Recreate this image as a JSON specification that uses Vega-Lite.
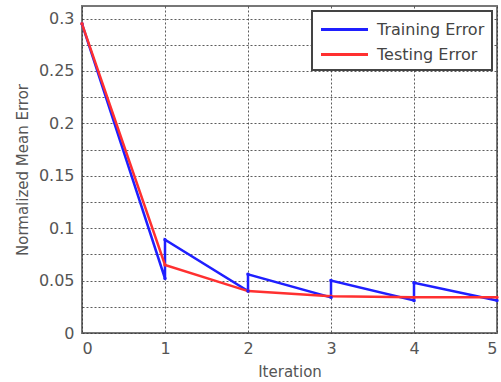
{
  "$schema": "https://vega.github.io/schema/vega-lite/v6.json",
  "width": 415,
  "height": 327,
  "autosize": {"type": "none"},
  "padding": {"left": 82, "top": 6, "right": 4, "bottom": 49},
  "background": "white",
  "config": {
    "font": "DejaVu Sans",
    "view": {"stroke": "#777", "strokeWidth": 2},
    "legend": {"strokeWidth": 2},
    "axis": {
      "domain": false,
      "grid": true,
      "gridColor": "#333",
      "gridDash": [2, 2],
      "gridWidth": 1,
      "gridOpacity": 0.8,
      "ticks": false,
      "labelOverlap": false,
      "labelFont": "DejaVu Sans",
      "labelFontSize": 16,
      "labelColor": "#555",
      "titleFont": "DejaVu Sans",
      "titleFontSize": 15,
      "titleFontWeight": "normal",
      "titleColor": "#555"
    }
  },
  "data": {
    "values": [
      {"series": "Training Error", "seq": 1, "iteration": 0, "error": 0.295},
      {"series": "Training Error", "seq": 2, "iteration": 1, "error": 0.052},
      {"series": "Training Error", "seq": 3, "iteration": 1, "error": 0.089},
      {"series": "Training Error", "seq": 4, "iteration": 2, "error": 0.04},
      {"series": "Training Error", "seq": 5, "iteration": 2, "error": 0.056},
      {"series": "Training Error", "seq": 6, "iteration": 3, "error": 0.034},
      {"series": "Training Error", "seq": 7, "iteration": 3, "error": 0.05},
      {"series": "Training Error", "seq": 8, "iteration": 4, "error": 0.031},
      {"series": "Training Error", "seq": 9, "iteration": 4, "error": 0.048},
      {"series": "Training Error", "seq": 10, "iteration": 5, "error": 0.031},
      {"series": "Testing Error", "seq": 1, "iteration": 0, "error": 0.295},
      {"series": "Testing Error", "seq": 2, "iteration": 1, "error": 0.065},
      {"series": "Testing Error", "seq": 3, "iteration": 2, "error": 0.04},
      {"series": "Testing Error", "seq": 4, "iteration": 3, "error": 0.035},
      {"series": "Testing Error", "seq": 5, "iteration": 4, "error": 0.034},
      {"series": "Testing Error", "seq": 6, "iteration": 5, "error": 0.034}
    ]
  },
  "mark": {"type": "line", "strokeWidth": 2.5, "point": {"size": 12, "filled": true}},
  "encoding": {
    "x": {
      "field": "iteration",
      "type": "quantitative",
      "scale": {"domain": [0, 5], "nice": false},
      "axis": {"values": [0, 1, 2, 3, 4, 5], "title": "Iteration", "labelPadding": 7, "titlePadding": 8}
    },
    "y": {
      "field": "error",
      "type": "quantitative",
      "scale": {"domain": [0, 0.312], "nice": false},
      "axis": {
        "values": [0, 0.025, 0.05, 0.075, 0.1, 0.125, 0.15, 0.175, 0.2, 0.225, 0.25, 0.275, 0.3],
        "labelExpr": "round(datum.value * 1000) % 50 == 0 ? toString(round(datum.value * 100) / 100) : ''",
        "title": "Normalized Mean Error",
        "labelPadding": 8,
        "titlePadding": 8
      }
    },
    "order": {"field": "seq", "type": "quantitative"},
    "color": {
      "field": "series",
      "type": "nominal",
      "scale": {"domain": ["Training Error", "Testing Error"], "range": ["#1f1fff", "#ff3030"]},
      "legend": {
        "title": null,
        "orient": "top-right",
        "offset": 5,
        "fillColor": "white",
        "strokeColor": "#444",
        "padding": 7,
        "symbolType": "M-2.35,0H2.35",
        "symbolSize": 400,
        "symbolOffset": 14,
        "symbolStrokeWidth": 3,
        "rowPadding": 5,
        "labelOffset": 21,
        "labelFontSize": 16,
        "labelColor": "#444",
        "labelFont": "DejaVu Sans"
      }
    }
  }
}
